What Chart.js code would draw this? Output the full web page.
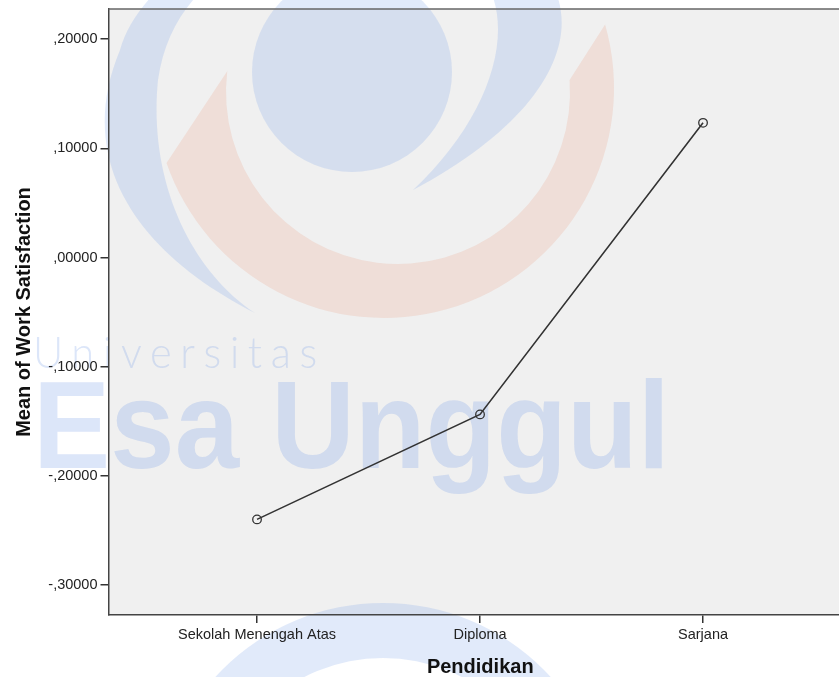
<!DOCTYPE html>
<html>
<head>
<meta charset="utf-8">
<title>Mean of Work Satisfaction by Pendidikan</title>
<script src="https://cdn.jsdelivr.net/npm/chart.js@4/dist/chart.umd.min.js"></script>
<style>
    html, body { margin: 0; padding: 0; background: #fff; overflow: hidden; }
    #wrap { width: 852px; height: 677px; }
</style>
</head>
<body>
<div id="wrap"><canvas id="meansChart" width="852" height="677"></canvas></div>
<script>
const categories = ['Sekolah Menengah Atas', 'Diploma', 'Sarjana'];
const meanWorkSatisfaction = [-0.2399, -0.1437, 0.1234];
const yTickValues = [0.2, 0.1, 0.0, -0.1, -0.2, -0.3];
const yTickLabels = [',20000', ',10000', ',00000', '-,10000', '-,20000', '-,30000'];

const FONT = '"Liberation Sans", Arial, sans-serif';
Chart.defaults.font.family = FONT;

// faint university logo behind the plot
const backdrop = {
    id: 'backdrop',
    beforeDraw(chart) {
        const { ctx, chartArea: a } = chart;
        ctx.save();
        ctx.fillStyle = '#ffffff';
        ctx.fillRect(0, 0, chart.width, chart.height);
        ctx.fillStyle = '#f0f0f0';
        ctx.fillRect(a.left, a.top, a.right - a.left, a.bottom - a.top);

        const blue = 'rgba(120,160,230,0.22)';
        const orange = 'rgba(235,150,120,0.2)';
        const rad = d => d * Math.PI / 180;

        ctx.fillStyle = blue;
        ctx.beginPath();
        ctx.arc(352, 72, 100, 0, Math.PI * 2);
        ctx.fill();

        ctx.beginPath();
        ctx.moveTo(255, 313);
        ctx.bezierCurveTo(150, 260, 70, 170, 120, 50);
        ctx.bezierCurveTo(145, -40, 300, -110, 420, -90);
        ctx.bezierCurveTo(600, -60, 620, 80, 413, 190);
        ctx.bezierCurveTo(520, 90, 530, -40, 420, -60);
        ctx.bezierCurveTo(300, -80, 175, -40, 158, 80);
        ctx.bezierCurveTo(148, 180, 190, 270, 255, 313);
        ctx.closePath();
        ctx.fill();

        ctx.beginPath();
        ctx.arc(383, 830, 227, 0, Math.PI * 2);
        ctx.arc(383, 830, 172, 0, Math.PI * 2, true);
        ctx.fill();

        ctx.fillStyle = orange;
        ctx.beginPath();
        ctx.arc(384, 88, 230, rad(-16), rad(161));
        ctx.lineTo(228, 70);
        ctx.arc(398, 92, 172, rad(187), rad(-4), true);
        ctx.closePath();
        ctx.fill();

        ctx.fillStyle = 'rgba(120,160,230,0.26)';
        ctx.textBaseline = 'alphabetic';
        ctx.textAlign = 'left';
        ctx.font = '300 43px Lato, "Open Sans", sans-serif';
        if ('letterSpacing' in ctx) ctx.letterSpacing = '9px';
        ctx.fillText('Universitas', 33, 368, 293);
        if ('letterSpacing' in ctx) ctx.letterSpacing = '0px';

        ctx.fillStyle = 'rgba(120,160,230,0.26)';
        ctx.font = 'bold 124px ' + FONT;
        ctx.fillText('Esa Unggul', 33, 468, 637);
        ctx.restore();
    },
    afterDraw(chart) {
        const { ctx, chartArea: a } = chart;
        ctx.save();
        ctx.strokeStyle = '#666';
        ctx.lineWidth = 1.5;
        ctx.beginPath();
        ctx.moveTo(a.left, a.top);
        ctx.lineTo(a.right, a.top);
        ctx.stroke();
        ctx.restore();
    }
};

const points = categories.map((c, i) => ({ x: i, y: meanWorkSatisfaction[i] }));

new Chart(document.getElementById('meansChart').getContext('2d'), {
    type: 'line',
    data: {
        datasets: [{
            label: 'Mean of Work Satisfaction',
            data: points,
            borderColor: '#333',
            borderWidth: 1.6,
            tension: 0,
            fill: false,
            pointRadius: 4.3,
            pointBorderWidth: 1.3,
            pointBorderColor: '#333',
            pointBackgroundColor: 'rgba(0,0,0,0)'
        }]
    },
    options: {
        responsive: false,
        animation: false,
        layout: { autoPadding: false, padding: { top: 9, left: 0, right: 0, bottom: 0 } },
        plugins: {
            legend: { display: false },
            tooltip: { enabled: false }
        },
        scales: {
            x: {
                type: 'linear',
                min: -0.666,
                max: 2.668,
                afterBuildTicks: s => { s.ticks = categories.map((c, i) => ({ value: i })); },
                afterFit: s => { s.height = 62; s.paddingLeft = 0; s.paddingRight = 0; },
                ticks: {
                    callback: v => categories[v],
                    color: '#222',
                    font: { size: 14.5 },
                    padding: 3,
                    maxRotation: 0,
                    autoSkip: false
                },
                grid: { drawOnChartArea: false, drawTicks: true, tickLength: 8, color: '#333', lineWidth: 1.5 },
                border: { display: true, color: '#444', width: 1.5 },
                title: {
                    display: true,
                    text: 'Pendidikan',
                    color: '#111',
                    font: { size: 20, weight: 'bold', lineHeight: 1 },
                    padding: { top: 0, bottom: 0 }
                }
            },
            y: {
                min: -0.3275,
                max: 0.2277,
                afterBuildTicks: s => { s.ticks = yTickValues.map(v => ({ value: v })); },
                afterFit: s => { s.width = 108.5; s.paddingTop = 0; s.paddingBottom = 0; },
                ticks: {
                    callback: v => yTickLabels[yTickValues.findIndex(t => Math.abs(t - v) < 1e-9)],
                    color: '#222',
                    font: { size: 14.5 },
                    padding: 3
                },
                grid: { drawOnChartArea: false, drawTicks: true, tickLength: 8, color: '#333', lineWidth: 1.5 },
                border: { display: true, color: '#444', width: 1.5 },
                title: {
                    display: true,
                    text: 'Mean of Work Satisfaction',
                    color: '#111',
                    font: { size: 20, weight: 'bold', lineHeight: 1 },
                    padding: { top: 14, bottom: 0 }
                }
            }
        }
    },
    plugins: [backdrop]
});
</script>
</body>
</html>
